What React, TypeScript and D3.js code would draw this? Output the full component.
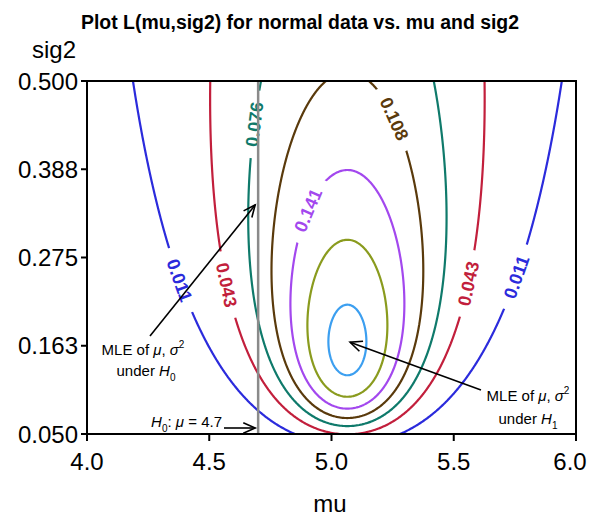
import React, { useMemo } from 'react';
import * as d3 from 'd3';

// sample the likelihood is built from (n = 3)
const sampleX = [4.565, 5.08, 5.55];
const contourLevels = [0.011, 0.043, 0.076, 0.108, 0.141, 0.173, 0.206];
const levelColors = ['#2b2bdc', '#c21f3c', '#0f7a6b', '#5a3a0c', '#a348ee', '#8a9b1e', '#3c9ff0'];
const muTicks = [4.0, 4.5, 5.0, 5.5, 6.0];
const muTickLabels = ['4.0', '4.5', '5.0', '5.5', '6.0'];
const sigTicks = [0.05, 0.1625, 0.275, 0.3875, 0.5];
const sigTickLabels = ['0.050', '0.163', '0.275', '0.388', '0.500'];
const h0Mu = 4.7;

const W = 589;
const H = 516;
const margin = { top: 81, right: 13, bottom: 82, left: 87 };
const FONT = 'Liberation Sans, Arial, Helvetica, sans-serif';

// likelihood of the normal sample at (mu, sig2)
function lik(mu: number, s: number) {
  let ll = 0;
  for (const x of sampleX) ll += -0.5 * Math.log(2 * Math.PI * s) - ((x - mu) * (x - mu)) / (2 * s);
  return Math.exp(ll);
}

function Arrow({ x1, y1, x2, y2 }: { x1: number; y1: number; x2: number; y2: number }) {
  const a = Math.atan2(y2 - y1, x2 - x1);
  const len = 13, spread = 0.42;
  const p1 = [x2 - len * Math.cos(a - spread), y2 - len * Math.sin(a - spread)];
  const p2 = [x2 - len * Math.cos(a + spread), y2 - len * Math.sin(a + spread)];
  return (
    <g stroke="#000" strokeWidth={1.6} fill="none">
      <line x1={x1} y1={y1} x2={x2} y2={y2} />
      <path d={`M${p1[0]},${p1[1]}L${x2},${y2}L${p2[0]},${p2[1]}`} />
    </g>
  );
}

export default function App() {
  const x = d3.scaleLinear().domain([4, 6]).range([margin.left, W - margin.right]);
  const y = d3.scaleLinear().domain([0.05, 0.5]).range([H - margin.bottom, margin.top]);
  const mean = d3.mean(sampleX) as number;

  const { paths, labels } = useMemo(() => {
    // grid a bit larger than the plot, clipped later
    const nx = 360, ny = 360;
    const muLo = 3.9, muHi = 6.1, sLo = 0.02, sHi = 0.53;
    const dmu = (muHi - muLo) / (nx - 1), ds = (sHi - sLo) / (ny - 1);
    const values = new Array(nx * ny);
    for (let j = 0; j < ny; j++) {
      for (let i = 0; i < nx; i++) values[j * nx + i] = lik(muLo + i * dmu, sLo + j * ds);
    }
    const cs = d3.contours().size([nx, ny]).thresholds(contourLevels)(values);
    const toScreen = (p: number[]) => [x(muLo + (p[0] - 0.5) * dmu), y(sLo + (p[1] - 0.5) * ds)];
    const rings = cs.map(c => c.coordinates.flatMap(poly => poly.map(r => r.map(toScreen))));
    const line = d3.line();
    const paths = rings.map(rs => rs.map(r => line(r as [number, number][]) + 'Z').join(''));

    // where the level numbers sit: level index, branch, sig2
    const spots = [
      { level: 0, side: -1, at: 0.246 },
      { level: 0, side: 1, at: 0.25 },
      { level: 1, side: -1, at: 0.24 },
      { level: 1, side: 1, at: 0.242 },
      { level: 2, side: -1, at: 0.445 },
      { level: 3, side: 1, at: 0.452 },
      { level: 4, side: -1, at: 0.336 },
    ];
    const xc = x(mean);
    const labels = spots.map(sp => {
      const ty = y(sp.at);
      let best: any = null;
      rings[sp.level].forEach(r => {
        r.forEach((p, k) => {
          if ((p[0] - xc) * sp.side <= 0) return;
          const d = Math.abs(p[1] - ty);
          if (!best || d < best.d) best = { d, r, k };
        });
      });
      const { r, k } = best;
      const n = r.length;
      const a = r[(k - 4 + n) % n], b = r[(k + 4) % n];
      let ang = (Math.atan2(b[1] - a[1], b[0] - a[0]) * 180) / Math.PI;
      if (ang > 90) ang -= 180;
      if (ang < -90) ang += 180;
      return {
        x: r[k][0], y: r[k][1], ang,
        text: contourLevels[sp.level].toFixed(3),
        color: levelColors[sp.level],
      };
    });
    return { paths, labels };
  }, []);

  const x0 = margin.left, x1 = W - margin.right, y0 = margin.top, y1 = H - margin.bottom;
  const gx = x(h0Mu);

  return (
    <svg width={W} height={H} style={{ position: 'absolute', left: 0, top: 0, background: '#fff' }} fontFamily={FONT}>
      <defs>
        <clipPath id="plot">
          <rect x={x0} y={y0} width={x1 - x0} height={y1 - y0} />
        </clipPath>
      </defs>
      <text x={300} y={29} textAnchor="middle" fontSize={19.5} fontWeight="bold" textLength={438} lengthAdjust="spacingAndGlyphs">
        Plot L(mu,sig2) for normal data vs. mu and sig2
      </text>

      <g clipPath="url(#plot)">
        {paths.map((d, i) => (
          <path key={i} d={d} fill="none" stroke={levelColors[i]} strokeWidth={2.2} />
        ))}
        {labels.map((l, i) => (
          <g key={i} transform={`translate(${l.x},${l.y}) rotate(${l.ang})`}>
            <rect x={-34} y={-8} width={68} height={16} fill="#fff" />
            <text textAnchor="middle" dy="0.36em" fontSize={18} fontWeight="bold" fill={l.color}>
              {l.text}
            </text>
          </g>
        ))}
        <line x1={gx} x2={gx} y1={y0} y2={y1} stroke="#8a8a8a" strokeWidth={2.5} />
      </g>

      {/* frame and axes */}
      <rect x={x0} y={y0} width={x1 - x0} height={y1 - y0} fill="none" stroke="#000" strokeWidth={2} />
      {muTicks.map((t, i) => (
        <g key={i}>
          <line x1={x(t)} x2={x(t)} y1={y1} y2={y1 + 7} stroke="#000" strokeWidth={2} />
          <text x={Math.min(x(t), W - 19)} y={y1 + 36} textAnchor="middle" fontSize={24}>
            {muTickLabels[i]}
          </text>
        </g>
      ))}
      {sigTicks.map((t, i) => (
        <g key={i}>
          <line x1={x0 - 6} x2={x0} y1={y(t)} y2={y(t)} stroke="#000" strokeWidth={2} />
          <text x={x0 - 9} y={y(t)} dy="0.36em" textAnchor="end" fontSize={24}>
            {sigTickLabels[i]}
          </text>
        </g>
      ))}
      <text x={330} y={512} textAnchor="middle" fontSize={24}>mu</text>
      <text x={32} y={58} fontSize={24}>sig2</text>

      {/* annotations */}
      <Arrow x1={150} y1={336} x2={gx - 3} y2={y(0.342)} />
      <Arrow x1={481} y1={390} x2={x(5.076)} y2={y(0.167)} />
      <Arrow x1={224} y1={428} x2={gx - 3} y2={428} />
      <g fontSize={15}>
        <text x={143} y={355} textAnchor="middle">
          MLE of <tspan fontStyle="italic">μ</tspan>, <tspan fontStyle="italic">σ</tspan>
          <tspan fontSize={10} dy={-7}>2</tspan>
        </text>
        <text x={146} y={376} textAnchor="middle">
          under <tspan fontStyle="italic">H</tspan>
          <tspan fontSize={10} dy={5}>0</tspan>
        </text>
        <text x={528} y={401} textAnchor="middle">
          MLE of <tspan fontStyle="italic">μ</tspan>, <tspan fontStyle="italic">σ</tspan>
          <tspan fontSize={10} dy={-7}>2</tspan>
        </text>
        <text x={528} y={424} textAnchor="middle">
          under <tspan fontStyle="italic">H</tspan>
          <tspan fontSize={10} dy={5}>1</tspan>
        </text>
        <text x={222} y={427} textAnchor="end">
          <tspan fontStyle="italic">H</tspan>
          <tspan fontSize={10} dy={5}>0</tspan>
          <tspan dy={-5}>: </tspan>
          <tspan fontStyle="italic">μ</tspan> = 4.7
        </text>
      </g>
    </svg>
  );
}
